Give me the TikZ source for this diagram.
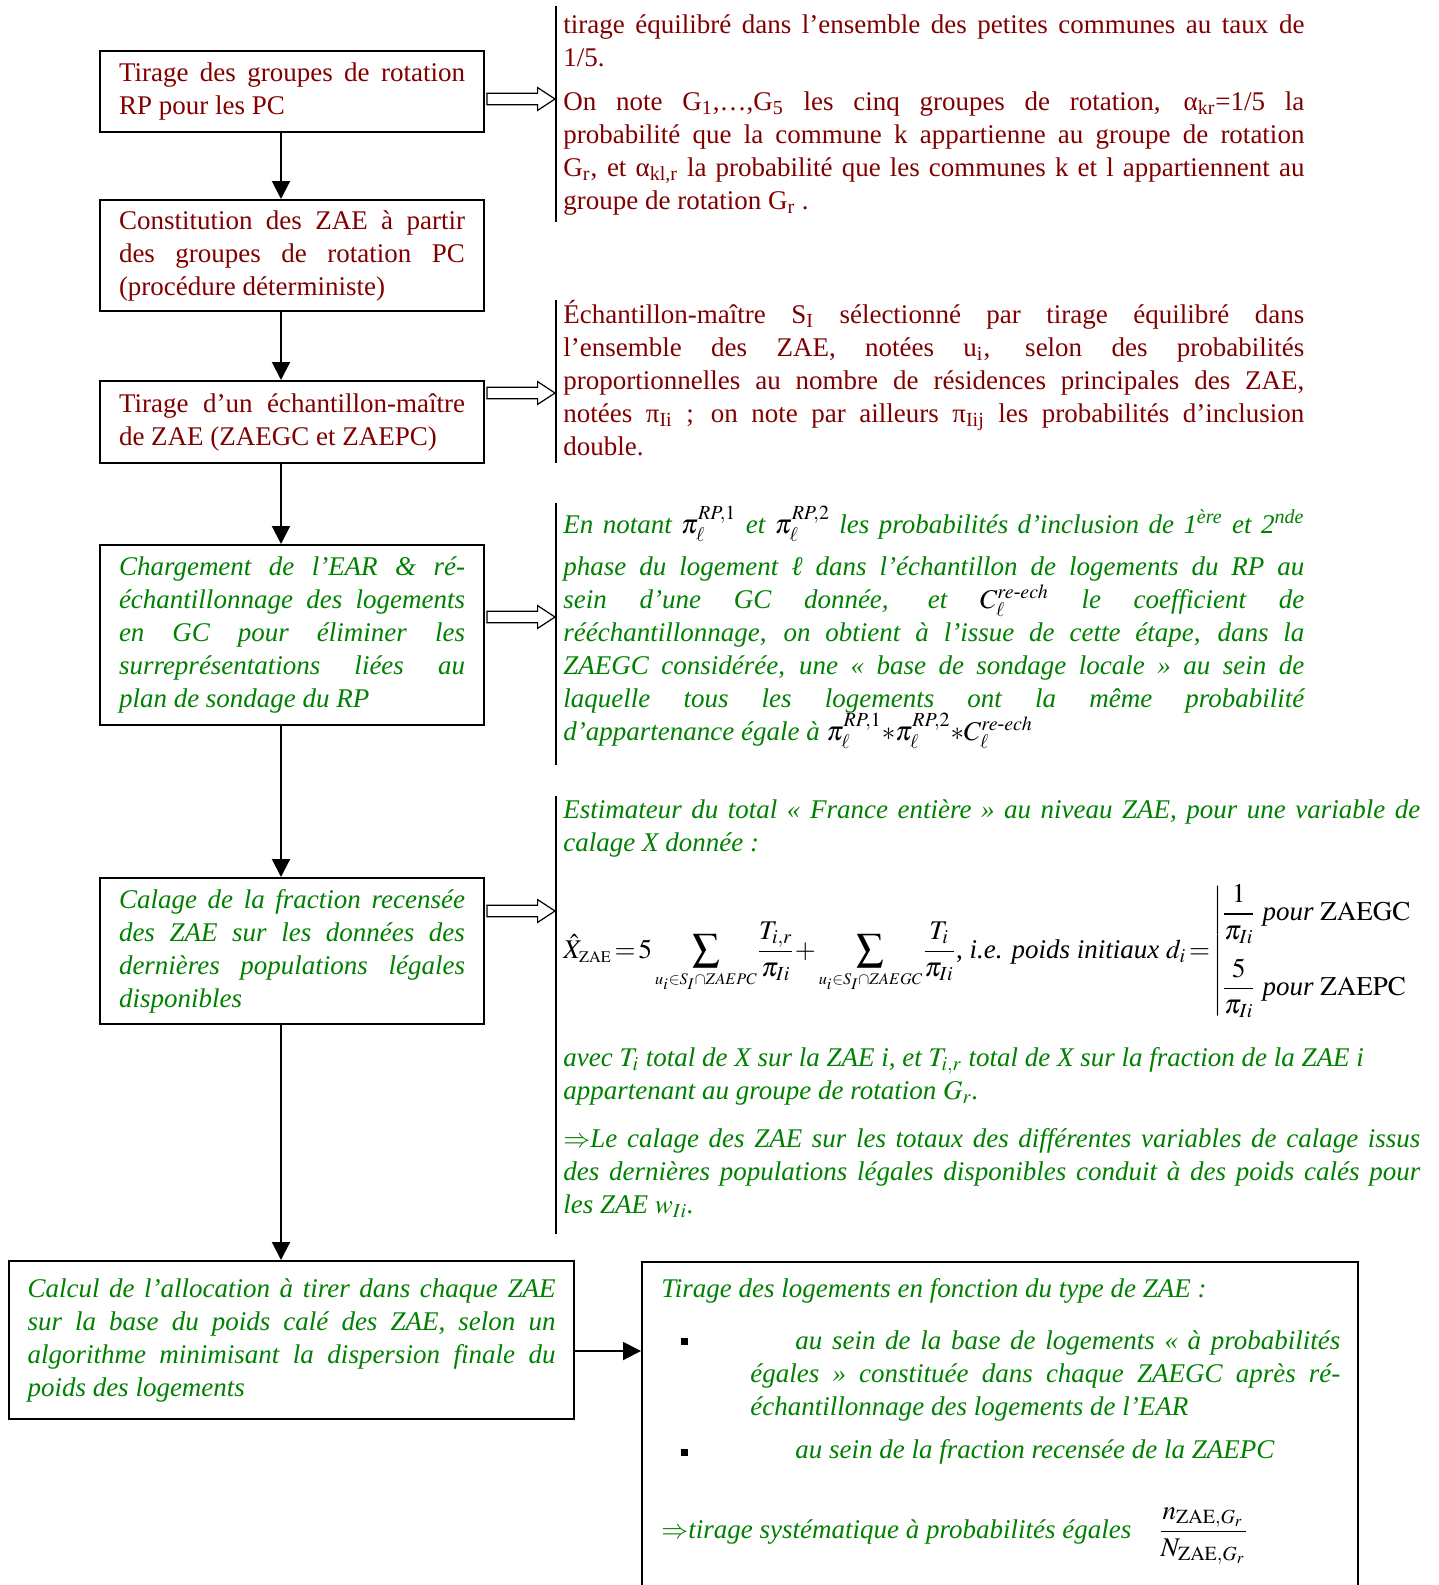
\documentclass[tikz,border=0pt]{standalone}
\usepackage{amsmath}
\usepackage{mathptmx}
\usepackage{fontspec}
\setmainfont{Liberation Serif}
\usetikzlibrary{arrows.meta, calc}

\definecolor{rougefonce}{RGB}{128,0,0}
\definecolor{vertfonce}{RGB}{0,128,0}

% fleche creuse d'une etape vers la bordure du commentaire
\newcommand{\flechecreuse}[2]{%
  \draw[line width=0.6pt, fill=white] let \p1=(#1), \p2=(#2) in
    (\x1+1pt,\y2+2.9pt) -- (\x2-8.7pt,\y2+2.9pt) -- (\x2-8.7pt,\y2+5.7pt) -- (\x2,\y2)
    -- (\x2-8.7pt,\y2-5.7pt) -- (\x2-8.7pt,\y2-2.9pt) -- (\x1+1pt,\y2-2.9pt) -- cycle;}

\begin{document}
\begin{tikzpicture}[x=0.5pt, y=-0.5pt,
    corps/.style={font=\fontsize{13.5pt}{16.5pt}\selectfont},
    rouge/.style={text=rougefonce},
    vert/.style={text=vertfonce, font=\fontsize{13.5pt}{16.5pt}\selectfont\itshape},
    etape/.style={corps, draw, line width=1pt, inner xsep=9.5pt, inner ysep=0pt,
      text width=173pt, align=justify},
    commentaire/.style={corps, anchor=base west, inner sep=0pt, text width=370.5pt, align=justify},
    fleche/.style={line width=1pt, -{Triangle[length=9pt, width=9pt]}},
    bordure/.style={line width=1.1pt}]
  \useasboundingbox (0,0) rectangle (1439,1585);
  \coordinate (axe) at (281,0);

  % etapes
  \node[etape, rouge, minimum height=40.5pt] (b1) at (292,91.5)
    {Tirage des groupes de rotation\linebreak RP pour les PC};
  \node[etape, rouge, minimum height=55.5pt] (b2) at (292,255.5)
    {Constitution des ZAE à partir\linebreak des groupes de rotation PC\linebreak (procédure déterministe)};
  \node[etape, rouge, minimum height=41pt] (b3) at (292,422)
    {Tirage d’un échantillon-maître\linebreak de ZAE (ZAEGC et ZAEPC)};
  \node[etape, vert, minimum height=90pt] (b4) at (292,635)
    {Chargement de l’EAR \& ré-\linebreak échantillonnage des logements\linebreak en GC pour éliminer les\linebreak surreprésentations liées au\linebreak plan de sondage du RP};
  \node[etape, vert, minimum height=73pt] (b5) at (292,951)
    {Calage de la fraction recensée\linebreak des ZAE sur les données des\linebreak dernières populations légales\linebreak disponibles};
  \node[etape, vert, text width=264pt, inner xsep=9.25pt, minimum height=79pt] (b6) at (291.5,1340)
    {Calcul de l’allocation à tirer dans chaque ZAE\linebreak sur la base du poids calé des ZAE, selon un\linebreak algorithme minimisant la dispersion finale du\linebreak poids des logements};
  \node[draw, line width=1pt, anchor=north west, minimum width=358pt, minimum height=200pt,
    inner sep=0pt] (b7) at (641,1261) {};

  \draw[fleche] (b1.south -| axe) -- (b2.north -| axe);
  \draw[fleche] (b2.south -| axe) -- (b3.north -| axe);
  \draw[fleche] (b3.south -| axe) -- (b4.north -| axe);
  \draw[fleche] (b4.south -| axe) -- (b5.north -| axe);
  \draw[fleche] (b5.south -| axe) -- (b6.north -| axe);
  \draw[fleche] ([yshift=-5.5pt]b6.east) -- ([yshift=-5.5pt]b6.east -| b7.west);

  % commentaires
  \draw[bordure] (556,6) -- (556,222);
  \draw[bordure] (556,300) -- (556,463);
  \draw[bordure] (556,503) -- (556,765);
  \draw[bordure] (556,796) -- (556,1234);
  \coordinate (r1) at (555,99);
  \coordinate (r2) at (555,393);
  \coordinate (r3) at (555,617);
  \coordinate (r4) at (555,911);
  \flechecreuse{b1.east}{r1}
  \flechecreuse{b3.east}{r2}
  \flechecreuse{b4.east}{r3}
  \flechecreuse{b5.east}{r4}

  \node[commentaire, rouge] (t1a) at (563,33)
    {tirage équilibré dans l’ensemble des petites communes au taux de\linebreak 1/5.};
  \node[commentaire, rouge] (t1b) at (563,110)
    {On note G\textsubscript{1},…,G\textsubscript{5} les cinq groupes de rotation, α\textsubscript{kr}=1/5 la\linebreak
     probabilité que la commune k appartienne au groupe de rotation\linebreak
     G\textsubscript{r}, et α\textsubscript{kl,r} la probabilité que les communes k et l appartiennent au\linebreak
     groupe de rotation G\textsubscript{r} .};
  \node[commentaire, rouge] (t2) at (563,323)
    {Échantillon-maître S\textsubscript{I} sélectionné par tirage équilibré dans\linebreak
     l’ensemble des ZAE, notées u\textsubscript{i}, selon des probabilités\linebreak
     proportionnelles au nombre de résidences principales des ZAE,\linebreak
     notées π\textsubscript{Ii} ; on note par ailleurs π\textsubscript{Iij} les probabilités d’inclusion\linebreak
     double.};
  \node[commentaire, vert] (t3) at (563,533)
    {En notant {\color{black}$\pi_\ell^{RP,1}$} et {\color{black}$\pi_\ell^{RP,2}$} les probabilités d’inclusion de 1\textsuperscript{ère} et 2\textsuperscript{nde}\vadjust{\vskip4.5pt}\linebreak
     phase du logement ℓ dans l’échantillon de logements du RP au\linebreak
     sein d’une GC donnée, et {\color{black}$C_\ell^{re\text{-}ech}$} le coefficient de\linebreak
     rééchantillonnage, on obtient à l’issue de cette étape, dans la\linebreak
     ZAEGC considérée, une «~base de sondage locale~» au sein de\linebreak
     laquelle tous les logements ont la même probabilité\linebreak
     d’appartenance égale à {\color{black}$\pi_\ell^{RP,1}{*}\pi_\ell^{RP,2}{*}C_\ell^{re\text{-}ech}$}};
  \node[commentaire, vert, text width=428.5pt] (t4a) at (563,818)
    {Estimateur du total «~France entière~» au niveau ZAE, pour une variable de\linebreak calage X donnée :};
  \node[corps, anchor=base west, inner sep=0pt] (formule) at (563,958)
    {$\displaystyle\hat{X}_{\scriptscriptstyle\mathrm{ZAE}}\!=\!5\sum_{\scriptscriptstyle u_i\in S_I\cap ZAEPC}\!\frac{T_{i,r}}{\pi_{Ii}}
      {+}\sum_{\scriptscriptstyle u_i\in S_I\cap ZAEGC}\!\frac{T_i}{\pi_{Ii}}$, \textit{i.e. poids initiaux}
     $d_i\!=\!\left|\begin{array}{@{}l@{}}\dfrac{1}{\pi_{Ii}}\ \textit{pour}\ \mathrm{ZAEGC}\\[14pt]
      \dfrac{5}{\pi_{Ii}}\ \textit{pour}\ \mathrm{ZAEPC}\end{array}\right.$};
  \node[commentaire, vert, text width=428.5pt] (t4b) at (563,1066)
    {avec $T_i$ total de X sur la ZAE i, et $T_{i,r}$ total de X sur la fraction de la ZAE i\\
     appartenant au groupe de rotation $G_r$.};
  \node[commentaire, vert, text width=428.5pt] (t4c) at (563,1147)
    {$\Rightarrow$Le calage des ZAE sur les totaux des différentes variables de calage issus\linebreak
     des dernières populations légales disponibles conduit à des poids calés pour\linebreak
     les ZAE $w_{Ii}$.};

  % contenu du tirage final
  \node[corps, vert, anchor=base west, inner sep=0pt] (titre) at (661,1297)
    {Tirage des logements en fonction du type de ZAE :};
  \node[fill=black, minimum size=3.5pt, inner sep=0pt] (p1) at (684,1341) {};
  \node[fill=black, minimum size=3.5pt, inner sep=0pt] (p2) at (684,1452) {};
  \node[commentaire, vert, text width=295pt] (c1) at (750,1349)
    {\hspace*{22.5pt}au sein de la base de logements «~à probabilités\linebreak
     égales~» constituée dans chaque ZAEGC après ré-\linebreak
     échantillonnage des logements de l’EAR};
  \node[commentaire, vert, text width=295pt] (c2) at (750,1458)
    {\hspace*{22.5pt}au sein de la fraction recensée de la ZAEPC};
  \node[corps, vert, anchor=base west, inner sep=0pt] (tirage) at (661,1538)
    {$\Rightarrow$tirage systématique à probabilités égales\quad{\color{black}$\dfrac{n_{\mathrm{ZAE},G_r}}{N_{\mathrm{ZAE},G_r}}$}};
\end{tikzpicture}
\end{document}
